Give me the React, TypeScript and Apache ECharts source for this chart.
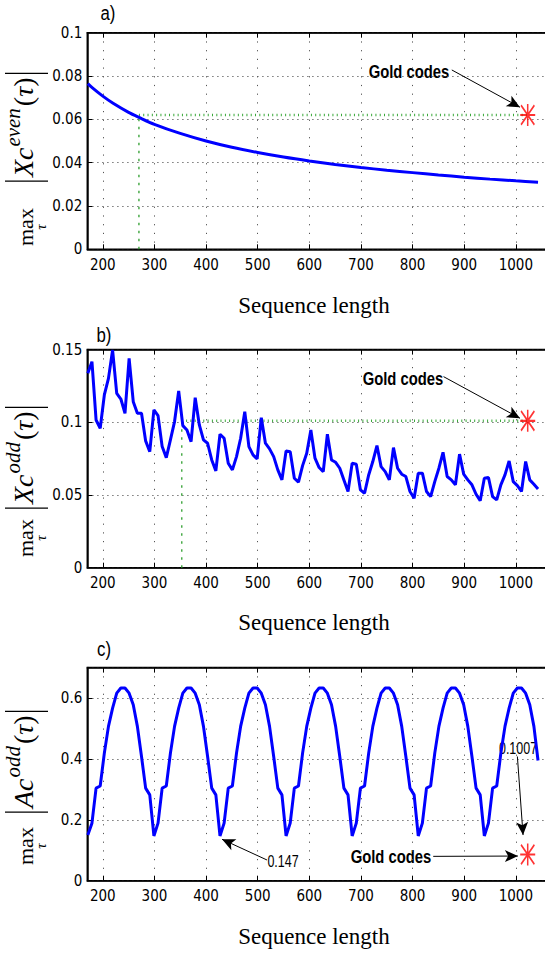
import React, { useEffect, useRef } from "react";
import * as echarts from "echarts";

// ---------- data ----------
const X_MIN = 170;
const X_MAX = 1080;
const xTickValues = [200, 300, 400, 500, 600, 700, 800, 900, 1000];

// panel a) max |Xc_even|
const lengthsA = [171, 180, 200, 220, 250, 270, 300, 350, 400, 450, 500, 550, 600, 650, 700, 750, 800, 850, 900, 950, 1000, 1043];
const evenCrossA = [0.0765, 0.0745, 0.0707, 0.0674, 0.0632, 0.0609, 0.0577, 0.0535, 0.05, 0.0471, 0.0447, 0.0426, 0.0408, 0.0392, 0.0378, 0.0365, 0.0354, 0.0343, 0.0333, 0.0324, 0.0316, 0.031];

// sequence lengths used in panels b) and c)
const lengthsBC = [
  171, 179, 187, 195, 203, 211, 219, 227, 235, 243, 251, 259, 267, 275, 283, 291,
  299, 307, 315, 323, 331, 339, 347, 355, 363, 371, 379, 387, 395, 403, 411, 419,
  427, 435, 443, 451, 459, 467, 475, 483, 491, 499, 507, 515, 523, 531, 539, 547,
  555, 563, 571, 579, 587, 595, 603, 611, 619, 627, 635, 643, 651, 659, 667, 675,
  683, 691, 699, 707, 715, 723, 731, 739, 747, 755, 763, 771, 779, 787, 795, 803,
  811, 819, 827, 835, 843, 851, 859, 867, 875, 883, 891, 899, 907, 915, 923, 931,
  939, 947, 955, 963, 971, 979, 987, 995, 1003, 1011, 1019, 1027, 1035, 1043,
];

// panel b) max |Xc_odd|
const oddCrossB = [
  0.1337, 0.1417, 0.1016, 0.0959, 0.1188, 0.1302, 0.1497, 0.1199, 0.116, 0.1062,
  0.144, 0.1142, 0.1062, 0.1062, 0.0872, 0.0798, 0.1085, 0.1046, 0.0833, 0.0757,
  0.0879, 0.1005, 0.1215, 0.0977, 0.0947, 0.0867, 0.1169, 0.0982, 0.0879, 0.0856,
  0.0741, 0.0666, 0.0918, 0.089, 0.0718, 0.0673, 0.0764, 0.089, 0.1073, 0.0833,
  0.0776, 0.0748, 0.1032, 0.0856, 0.0817, 0.0764, 0.0673, 0.0604, 0.0803, 0.0798,
  0.0615, 0.0588, 0.0702, 0.0787, 0.0947, 0.0753, 0.0689, 0.0661, 0.0918, 0.0741,
  0.0725, 0.0684, 0.0604, 0.0524, 0.0718, 0.0711, 0.0535, 0.0512, 0.0638, 0.073,
  0.084, 0.0695, 0.0661, 0.0604, 0.0826, 0.0684, 0.0643, 0.0627, 0.0524, 0.0478,
  0.065, 0.065, 0.0524, 0.0489, 0.0592, 0.0684, 0.0794, 0.0627, 0.0604, 0.057,
  0.0781, 0.0643, 0.0604, 0.057, 0.0505, 0.046, 0.0615, 0.062, 0.0489, 0.0466,
  0.057, 0.0638, 0.0734, 0.0592, 0.0565, 0.0524, 0.073, 0.0604, 0.0574, 0.0542,
];

// panel c) max |Ac_odd|
const oddAutoC = [
  0.150, 0.189, 0.304, 0.311, 0.419, 0.507, 0.567, 0.616, 0.633, 0.633, 0.616, 0.578, 0.507, 0.408, 0.304, 0.282,
  0.147, 0.189, 0.304, 0.311, 0.419, 0.507, 0.567, 0.616, 0.633, 0.633, 0.616, 0.578, 0.507, 0.408, 0.304, 0.282,
  0.147, 0.189, 0.304, 0.311, 0.419, 0.507, 0.567, 0.616, 0.633, 0.633, 0.616, 0.578, 0.507, 0.408, 0.304, 0.282,
  0.147, 0.189, 0.304, 0.311, 0.419, 0.507, 0.567, 0.616, 0.633, 0.633, 0.616, 0.578, 0.507, 0.408, 0.304, 0.282,
  0.147, 0.189, 0.304, 0.311, 0.419, 0.507, 0.567, 0.616, 0.633, 0.633, 0.616, 0.578, 0.507, 0.408, 0.304, 0.282,
  0.147, 0.189, 0.304, 0.311, 0.419, 0.507, 0.567, 0.616, 0.633, 0.633, 0.616, 0.578, 0.507, 0.408, 0.304, 0.282,
  0.147, 0.189, 0.304, 0.311, 0.419, 0.507, 0.567, 0.616, 0.633, 0.633, 0.616, 0.578, 0.507, 0.395,
];

// Gold code reference points
const goldLength = 1023;
const goldA = 0.062;
const crossLenA = 270;
const goldB = 0.101;
const crossLenB = 353;
const goldC = 0.086;

// y axes
const yMaxes = [0.1, 0.15, 0.7];
const yIntervals = [0.02, 0.05, 0.2];

// ---------- styling ----------
const SANS_N = "'Liberation Sans Narrow','Arial Narrow','DejaVu Sans Condensed',sans-serif";
const SANS = "'Liberation Sans',Arial,sans-serif";
const SERIF = "'Liberation Serif','Times New Roman',serif";
const PX_PER_UNIT = 0.5163;
const GRID_LEFT = 87.3;
const gridTops = [32.7, 349.6, 667.6];
const gridHeights = [216.6, 218.1, 213.1];
const ASTERISK =
  "path://M45 0H55V100H45Z M0 45H100V55H0Z M9 2L98 91L91 98L2 9Z M91 2L98 9L9 98L2 91Z";

function measure(text: string, font: string): number {
  const c = document.createElement("canvas").getContext("2d");
  if (!c) return text.length * 10;
  c.font = font;
  return c.measureText(text).width;
}

type LabelCfg = { F: number; FM: number; S: number; FS: number; g1: number; g2: number; g3: number; up: number; down: number };

function yLabel(x0: number, y0: number, main: string, sup: string, cfg: LabelCfg) {
  const children: any[] = [];
  const w = (t: string, size: number, it: boolean) =>
    measure(t, `${it ? "italic " : ""}${size}px "Liberation Serif"`);
  const put = (t: string, size: number, it: boolean, u: number, v: number) =>
    children.push({
      type: "text",
      x: u,
      y: v - 0.34 * size,
      silent: true,
      style: { text: t, fontFamily: SERIF, fontSize: size, fontStyle: it ? "italic" : "normal", fill: "#000", align: "left", verticalAlign: "middle" },
    });
  const bar = (u: number) =>
    children.push({ type: "line", silent: true, shape: { x1: u, y1: -cfg.up, x2: u, y2: cfg.down }, style: { stroke: "#000", lineWidth: 1.3 } });
  let u = 0;
  put("max", cfg.FM, false, 0, 0);
  const wm = w("max", cfg.FM, false);
  put("τ", cfg.FS, true, wm / 2 - w("τ", cfg.FS, true) / 2, cfg.FS * 0.85);
  u = wm + cfg.g1;
  bar(u);
  u += cfg.g2;
  put(main, cfg.F, true, u, 0);
  u += w(main, cfg.F, true);
  put("c", cfg.F, true, u, 0);
  u += w("c", cfg.F, true) + 1;
  put(sup, cfg.S, true, u, -0.45 * cfg.F);
  u += w(sup, cfg.S, true) + 2;
  put("(", cfg.F, false, u, 0);
  u += w("(", cfg.F, false);
  put("τ", cfg.F, true, u, 0);
  u += w("τ", cfg.F, true);
  put(")", cfg.F, false, u, 0);
  u += w(")", cfg.F, false) + cfg.g3;
  bar(u);
  return { type: "group", x: x0, y: y0, rotation: Math.PI / 2, children };
}

function txt(x: number, y: number, text: string, family: string, size: number, extra: any = {}, scaleX = 1) {
  return {
    type: "text",
    x,
    y,
    scaleX,
    silent: true,
    style: { text, fontFamily: family, fontSize: size, fill: "#000", align: "center", verticalAlign: "middle", ...extra },
  };
}

function arrow(from: number[], to: number[]) {
  return [{ coord: from }, { coord: to }];
}

export default function App() {
  const ref = useRef<HTMLDivElement>(null);
  useEffect(() => {
    if (!ref.current) return;
    const chart = echarts.init(ref.current, undefined, { renderer: "svg" });
    const width = (X_MAX - X_MIN) * PX_PER_UNIT;

    const grid = gridTops.map((top, i) => ({
      left: GRID_LEFT,
      top,
      width,
      height: gridHeights[i],
      show: true,
      borderColor: "#000",
      borderWidth: 1.5,
      backgroundColor: "transparent",
      containLabel: false,
      outerBoundsMode: "none",
    }));

    const xAxis: any[] = [];
    const yAxis: any[] = [];
    gridTops.forEach((_, i) => {
      xAxis.push({
        type: "value",
        gridIndex: i,
        position: "bottom",
        min: X_MIN,
        max: X_MAX,
        axisLine: { show: true, onZero: false, lineStyle: { color: "#000", width: 1.5 } },
        axisTick: { show: true, inside: true, length: 5, customValues: xTickValues, lineStyle: { color: "#000", width: 1 } },
        axisLabel: {
          show: true,
          customValues: xTickValues,
          color: "#000",
          fontFamily: SANS_N,
          fontSize: 15,
          margin: 8,
          formatter: (v: number) => String(v),
        },
        splitLine: { show: true, lineStyle: { color: "#555", width: 1, type: [1.2, 7.5] } },
      });
      xAxis.push({
        type: "value",
        gridIndex: i,
        position: "top",
        min: X_MIN,
        max: X_MAX,
        axisLine: { show: true, onZero: false, lineStyle: { color: "#000", width: 1.5 } },
        axisTick: { show: true, inside: true, length: 5, customValues: xTickValues, lineStyle: { color: "#000", width: 1 } },
        axisLabel: { show: false },
        splitLine: { show: false },
      });
      yAxis.push({
        type: "value",
        gridIndex: i,
        min: 0,
        max: yMaxes[i],
        interval: yIntervals[i],
        axisLine: { show: true, onZero: false, lineStyle: { color: "#000", width: 1.5 } },
        axisTick: { show: true, inside: true, length: 5, lineStyle: { color: "#000", width: 1 } },
        axisLabel: { show: true, color: "#000", fontFamily: SANS_N, fontSize: 15, margin: 5, showMaxLabel: i !== 2 },
        splitLine: { show: true, lineStyle: { color: "#555", width: 1, type: [1.2, 3.8] } },
      });
    });

    const blue = { color: "#0000ff", width: 3 };
    const greenH = { color: "#3aa83a", width: 2.5, type: [1, 3.3] };
    const greenV = { color: "#2e9e2e", width: 1.3, type: [2.5, 5.5] };
    const markArrows = (pairs: any[]) => ({
      silent: true,
      animation: false,
      symbol: ["none", "arrow"],
      symbolSize: [9, 13],
      lineStyle: { color: "#000", width: 1, type: "solid" },
      label: { show: false },
      emphasis: { disabled: true },
      data: pairs,
    });
    const star = { symbol: ASTERISK, symbolSize: [15, 22], itemStyle: { color: "#ff0000" }, z: 4 };

    const series: any[] = [
      // a)
      { type: "line", xAxisIndex: 0, yAxisIndex: 0, data: [[crossLenA, 0], [crossLenA, goldA]], showSymbol: false, lineStyle: greenV, z: 1 },
      { type: "line", xAxisIndex: 0, yAxisIndex: 0, data: [[crossLenA, goldA], [goldLength, goldA]], showSymbol: false, lineStyle: greenH, z: 1 },
      { type: "line", xAxisIndex: 0, yAxisIndex: 0, data: lengthsA.map((x, k) => [x, evenCrossA[k]]), showSymbol: false, smooth: 0.3, lineStyle: blue, z: 3 },
      {
        type: "scatter", xAxisIndex: 0, yAxisIndex: 0, data: [[goldLength, goldA]], ...star,
        markLine: markArrows([arrow([876, 0.0828], [1008, 0.0656])]),
      },
      // b)
      { type: "line", xAxisIndex: 2, yAxisIndex: 1, data: [[crossLenB, 0], [crossLenB, goldB]], showSymbol: false, lineStyle: greenV, z: 1 },
      { type: "line", xAxisIndex: 2, yAxisIndex: 1, data: [[crossLenB, goldB], [goldLength, goldB]], showSymbol: false, lineStyle: greenH, z: 1 },
      { type: "line", xAxisIndex: 2, yAxisIndex: 1, data: lengthsBC.map((x, k) => [x, oddCrossB[k]]), showSymbol: false, lineStyle: blue, z: 3 },
      {
        type: "scatter", xAxisIndex: 2, yAxisIndex: 1, data: [[goldLength, goldB]], ...star,
        markLine: markArrows([arrow([860, 0.1314], [1008, 0.1028])]),
      },
      // c)
      { type: "line", xAxisIndex: 4, yAxisIndex: 2, data: lengthsBC.map((x, k) => [x, oddAutoC[k]]), showSymbol: false, lineStyle: blue, z: 3 },
      {
        type: "scatter", xAxisIndex: 4, yAxisIndex: 2, data: [[goldLength, goldC]], ...star,
        markLine: markArrows([
          arrow([518, 0.068], [431, 0.136]),
          arrow([1003, 0.408], [1014, 0.15]),
          arrow([840, 0.08], [1004, 0.081]),
        ]),
      },
    ];

    const lab: LabelCfg = { F: 28, FM: 22, S: 21, FS: 15, g1: 17, g2: 4, g3: 4, up: 28, down: 15 };
    const bold = { fontWeight: "bold" };
    const graphic: any[] = [
      txt(108, 13, "a)", SANS, 21, {}, 0.8),
      txt(104, 335, "b)", SANS, 21, {}, 0.8),
      txt(104, 649, "c)", SANS, 21, {}, 0.8),
      txt(314, 305, "Sequence length", SERIF, 23),
      txt(314, 622, "Sequence length", SERIF, 23),
      txt(314, 936, "Sequence length", SERIF, 23),
      txt(409, 72, "Gold codes", SANS, 19, bold, 0.78),
      txt(403, 379, "Gold codes", SANS, 19, bold, 0.78),
      txt(391, 857, "Gold codes", SANS, 19, bold, 0.78),
      txt(283, 861, "0.147", SANS, 16, {}, 0.78),
      txt(518, 748, "0.1007", SANS, 16, {}, 0.78),
      yLabel(33, 246, "X", "even", { ...lab, g1: 27 }),
      yLabel(33, 557, "X", "odd", { ...lab, g1: 11 }),
      yLabel(33, 865, "A", "odd", { ...lab, g1: 15 }),
    ];

    chart.setOption({
      animation: false,
      backgroundColor: "#fff",
      grid,
      xAxis,
      yAxis,
      series,
      graphic,
    });
    return () => chart.dispose();
  }, []);

  return (
    <div style={{ position: "fixed", left: 0, top: 0, width: 545, height: 954, overflow: "hidden", background: "#fff" }}>
      <div ref={ref} style={{ width: 600, height: 954 }} />
    </div>
  );
}
